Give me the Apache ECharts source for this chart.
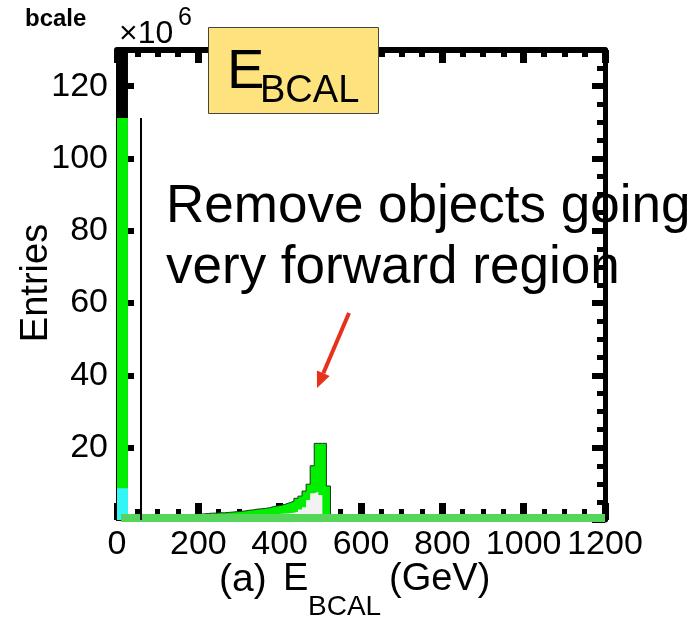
<!DOCTYPE html>
<html>
<head>
<meta charset="utf-8">
<script src="https://cdn.jsdelivr.net/npm/echarts@6/dist/echarts.min.js"></script>
<style>
html,body{margin:0;padding:0;background:#fff;}
#chart{width:695px;height:619px;}
</style>
</head>
<body>
<div id="chart"></div>
<script>
// ---------- data (E_BCAL in GeV, entries in units of 10^6) ----------
const xTickLabels = [0, 200, 400, 600, 800, 1000, 1200];
const yTickLabels = [20, 40, 60, 80, 100, 120];

// first (forward) bin
const firstBinEdges = [0, 27];
const blackFirst = [200];     // exceeds the axis, clipped at the frame
const greenFirst = [111.2];
const cyanFirst = [8.8];

// main green distribution (10 GeV bins, left edges)
const greenEdges = [185,195,205,215,225,235,245,255,265,275,285,295,305,315,325,335,345,355,365,375,385,395,405,415,425,435,445,455,465,475,485,495,505,515,525];
const greenVals  = [1.5,1.6,1.7,1.8,1.9,1.9,2.0,2.0,2.1,2.2,2.3,2.4,2.5,2.7,2.8,3.0,3.1,3.2,3.4,3.7,3.9,4.1,4.4,4.8,5.2,6.0,6.6,8.0,9.9,15.0,21.2,21.2,21.2,9.4];

// light grey distribution
const greyEdges = [365,375,385,395,405,415,425,435,445,455,465,475,485,495,505];
const greyVals  = [1.4,1.5,1.6,1.7,1.8,1.9,2.0,2.3,2.9,3.5,5.5,7.4,7.8,6.9];

// flat band along the bottom
const bandX = [10, 1200];
const bandVals = [0.55, 0.55];

// cut line
const cutX = [59, 59];
const cutY = [0, 111.2];

// ---------- helpers ----------
function hist(edges, vals) {
  const pts = [];
  for (let i = 0; i < vals.length; i++) pts.push([edges[i], vals[i]]);
  pts.push([edges[edges.length - 1], 0]);
  return pts;
}
function pairs(xs, ys) { return xs.map((x, i) => [x, ys[i]]); }

const FONT = "'Liberation Sans', Arial, Helvetica, sans-serif";

function histSeries(data, fill, line, lw) {
  return {
    type: 'line', step: 'end', data: data, symbol: 'none', clip: true,
    lineStyle: { color: line, width: lw },
    areaStyle: { color: fill, opacity: 1, origin: 'start' },
    silent: true, animation: false
  };
}
function txt(s, x, y, size, opts) {
  opts = opts || {};
  const align = opts.align || 'left';
  return {
    type: 'text', x: x, y: y, z: opts.z || 50, rotation: opts.rotation || 0,
    style: { text: s, font: (opts.bold ? 'bold ' : '') + size + 'px ' + FONT, fill: '#000',
      align: align, verticalAlign: 'middle', textAlign: align, textVerticalAlign: 'middle' }
  };
}

const chart = echarts.init(document.getElementById('chart'), null, { renderer: 'canvas' });

const option = {
  backgroundColor: '#fff',
  animation: false,
  grid: { left: 117, top: 50, width: 488, height: 470, containLabel: false, outerBoundsMode: 'none' },
  xAxis: [
    {
      type: 'value', position: 'bottom', min: 0, max: 1200, interval: 200,
      axisLine: { show: true, onZero: false, lineStyle: { color: '#000', width: 2 } },
      axisTick: { show: true, inside: true, length: 17, lineStyle: { color: '#000', width: 7 } },
      minorTick: { show: true, splitNumber: 4, length: 11, lineStyle: { color: '#000', width: 5 } },
      axisLabel: { show: true, fontSize: 34, fontFamily: FONT, color: '#000', margin: 8,
        showMinLabel: true, showMaxLabel: true,
        formatter: v => (xTickLabels.indexOf(v) >= 0 ? String(v) : '') },
      splitLine: { show: false }
    },
    {
      type: 'value', position: 'top', min: 0, max: 1200, interval: 200,
      axisLine: { show: true, onZero: false, lineStyle: { color: '#000', width: 6 } },
      axisTick: { show: true, inside: true, length: 13, lineStyle: { color: '#000', width: 7 } },
      minorTick: { show: true, splitNumber: 4, length: 7, lineStyle: { color: '#000', width: 6 } },
      axisLabel: { show: false },
      splitLine: { show: false }
    }
  ],
  yAxis: [
    {
      type: 'value', position: 'left', min: 0, max: 130, interval: 20,
      axisLine: { show: true, onZero: false, lineStyle: { color: '#000', width: 2 } },
      axisTick: { show: true, inside: true, length: 17, lineStyle: { color: '#000', width: 6 } },
      minorTick: { show: false },
      axisLabel: { show: true, fontSize: 34, fontFamily: FONT, color: '#000', margin: 9,
        showMinLabel: false, showMaxLabel: false,
        formatter: v => (yTickLabels.indexOf(v) >= 0 ? String(v) : '') },
      splitLine: { show: false }
    },
    {
      type: 'value', position: 'right', min: 0, max: 130, interval: 20,
      axisLine: { show: true, onZero: false, lineStyle: { color: '#000', width: 5 } },
      axisTick: { show: true, inside: true, length: 13, lineStyle: { color: '#000', width: 6 } },
      minorTick: { show: true, splitNumber: 4, length: 8, lineStyle: { color: '#000', width: 5 } },
      axisLabel: { show: false },
      splitLine: { show: false }
    }
  ],
  series: [
    histSeries(hist(firstBinEdges, blackFirst), '#000', '#000', 0),
    histSeries(hist(firstBinEdges, greenFirst), '#00ee00', '#00ee00', 0),
    histSeries(hist(greenEdges, greenVals), '#00ee00', '#1a3a1a', 1),
    histSeries(hist(greyEdges, greyVals), '#f2f2f2', '#f2f2f2', 0),
    histSeries(hist(firstBinEdges, cyanFirst), '#33f5f5', '#33f5f5', 0),
    {
      type: 'line', data: pairs(bandX, bandVals), symbol: 'none', clip: false,
      lineStyle: { color: '#55d55a', width: 8, cap: 'butt' }, silent: true, animation: false
    },
    {
      type: 'line', data: pairs(cutX, cutY), symbol: 'none', clip: false,
      lineStyle: { color: '#000', width: 2 }, silent: true, animation: false
    }
  ],
  graphic: [
    txt('bcale', 25, 19, 24, { bold: true, z: 100 }),
    txt('×10', 119, 34, 32, { z: 100 }),
    txt('6', 178, 18, 25, { z: 100 }),
    { type: 'rect', z: 100, shape: { x: 208.5, y: 27.5, width: 170, height: 86 },
      style: { fill: '#fde27e', stroke: '#444', lineWidth: 1 } },
    txt('E', 227, 73, 56, { z: 101 }),
    txt('BCAL', 260, 92, 38, { z: 101 }),
    txt('Remove objects going', 166, 207, 53),
    txt('very forward region', 166, 268, 53),
    { type: 'line', z: 50, shape: { x1: 349, y1: 313, x2: 323.3, y2: 373.3 },
      style: { stroke: '#e8311a', lineWidth: 4 } },
    { type: 'polygon', z: 50, shape: { points: [[317, 388], [329.7, 376.1], [316.9, 370.6]] },
      style: { fill: '#e8311a' } },
    txt('Entries', 37, 283, 38, { align: 'center', rotation: Math.PI / 2 }),
    txt('(a)', 219, 580, 39),
    txt('E', 283, 580, 38),
    txt('BCAL', 308, 607, 28),
    txt('(GeV)', 389, 580, 38)
  ]
};
chart.setOption(option);
</script>
</body>
</html>
